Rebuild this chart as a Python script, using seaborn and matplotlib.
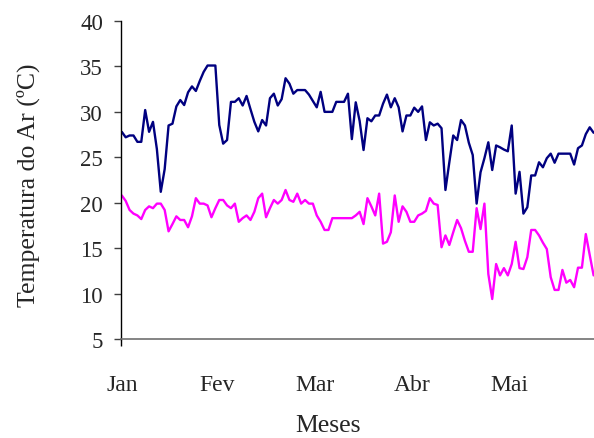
import matplotlib
matplotlib.use("Agg")
import matplotlib.pyplot as plt
import seaborn as sns
import pandas as pd

# daily air temperature (ºC)
temp_max = [27.8, 27.2, 27.4, 27.4, 26.7, 26.7, 30.2, 27.8, 28.9, 25.9,
            21.2, 23.7, 28.5, 28.7, 30.6, 31.3, 30.75, 32.15, 32.8, 32.3,
            33.4, 34.4, 35.1, 35.1, 35.1, 28.55, 26.5, 26.9, 31.1, 31.1,
            31.5, 30.7, 31.75, 30.3, 28.9, 27.85, 29.1, 28.5, 31.5, 32.0,
            30.7, 31.4, 33.7, 33.1, 32.0, 32.4, 32.4, 32.4, 31.9, 31.2,
            30.5, 32.2, 30.0, 30.0, 30.0, 31.1, 31.1, 31.1, 32.0, 27.0,
            31.05, 29.0, 25.8, 29.3, 28.96, 29.6, 29.6, 30.9, 31.9, 30.5,
            31.5, 30.5, 27.85, 29.6, 29.6, 30.46, 30.0, 30.6, 26.9, 28.85,
            28.5, 28.7, 28.2, 21.4, 24.45, 27.4, 26.9, 29.1, 28.5, 26.6,
            25.25, 19.9, 23.35, 24.9, 26.65, 23.6, 26.3, 26.1, 25.85, 25.66,
            28.5, 21.0, 23.4, 18.8, 19.5, 23.0, 23.0, 24.45, 23.9, 24.9,
            25.4, 24.4, 25.4, 25.4, 25.4, 25.4, 24.2, 26.0, 26.3, 27.55,
            28.3, 27.7]

temp_min = [20.8, 20.2, 19.2, 18.8, 18.6, 18.2, 19.2, 19.6, 19.4, 19.9,
            19.9, 19.2, 16.85, 17.65, 18.5, 18.1, 18.1, 17.3, 18.5, 20.5,
            19.9, 19.9, 19.7, 18.4, 19.4, 20.3, 20.3, 19.7, 19.4, 19.9,
            17.9, 18.3, 18.6, 18.1, 19.0, 20.5, 21.0, 18.4, 19.4, 20.3,
            19.9, 20.3, 21.4, 20.3, 20.1, 21.0, 19.9, 20.3, 19.9, 19.9,
            18.6, 17.9, 17.0, 17.0, 18.3, 18.3, 18.3, 18.3, 18.3, 18.3,
            18.6, 19.0, 17.65, 20.5, 19.6, 18.6, 21.0, 15.5, 15.7, 16.75,
            20.8, 17.9, 19.6, 19.0, 17.9, 17.9, 18.6, 18.8, 19.1, 20.5,
            19.9, 19.75, 15.1, 16.4, 15.35, 16.75, 18.1, 17.2, 15.8, 14.6,
            14.6, 19.4, 17.1, 19.9, 12.15, 9.4, 13.25, 12.0, 12.8, 12.0,
            13.25, 15.7, 12.8, 12.7, 14.0, 17.0, 17.0, 16.4, 15.6, 14.9,
            11.8, 10.4, 10.4, 12.6, 11.2, 11.5, 10.7, 12.85, 12.85, 16.55,
            14.25, 12.0]

month_labels = ['Jan', 'Fev', 'Mar', 'Abr', 'Mai']
month_pos = [0, 24.5, 49.5, 74.5, 99.5]

df = pd.DataFrame({'dia': range(len(temp_max)), 'max': temp_max, 'min': temp_min})
long_df = df.melt(id_vars='dia', var_name='serie', value_name='temp')

sns.set_style('white')
plt.rcParams['font.family'] = ['Liberation Serif', 'DejaVu Serif']

fig = plt.figure(figsize=(5.94, 4.39), dpi=100)
ax = fig.add_axes([121 / 594, 1 - 340 / 439, 1 - 121 / 594, 318 / 439])

sns.lineplot(data=long_df, x='dia', y='temp', hue='serie',
             palette={'max': '#000080', 'min': '#FF00FF'},
             linewidth=1.7, legend=False, ax=ax)

ax.set_xlim(-0.2, 121.1)
ax.set_ylim(5, 40)
ax.set_yticks(range(5, 41, 5))
ax.set_xticks(month_pos)
ax.set_xticklabels(month_labels)
ax.set_xticks([-0.2], minor=True)

ax.tick_params(axis='x', which='major', length=0, pad=25, labelsize=17)
ax.tick_params(axis='x', which='minor', bottom=True, length=5, width=1,
               color='black', direction='out')
ax.tick_params(axis='y', left=True, length=5, width=1, color='#404040',
               direction='out', pad=8, labelsize=16.5)

for side in ['top', 'right']:
    ax.spines[side].set_visible(False)
ax.spines['left'].set_color('black')
ax.spines['left'].set_linewidth(1)
ax.spines['bottom'].set_color('#707070')
ax.spines['bottom'].set_linewidth(1.2)

ax.set_xlabel('Meses', fontsize=18.5)
ax.xaxis.set_label_coords(0.438, -0.235)
ax.set_ylabel('Temperatura do Ar (ºC)', fontsize=18.5)
ax.yaxis.set_label_coords(-0.172, 0.487)

fig.savefig('out.png', dpi=100)
